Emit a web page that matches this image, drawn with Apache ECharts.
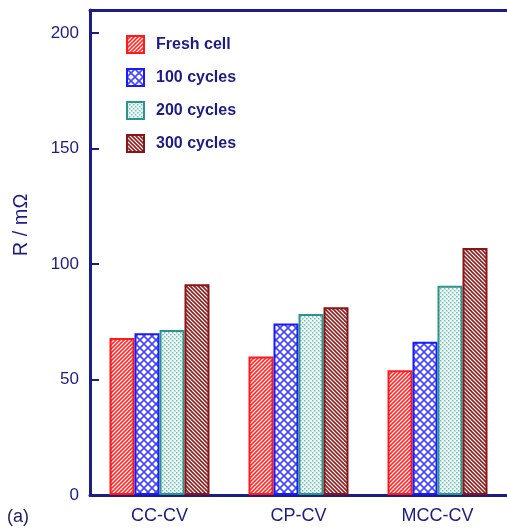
<!DOCTYPE html>
<html><head><meta charset="utf-8">
<script src="https://cdn.jsdelivr.net/npm/echarts@6/dist/echarts.min.js"></script>
<style>html,body{margin:0;padding:0;background:#fff}#c{width:507px;height:528px}</style>
</head><body><div id="c"></div>
<script>
const categories = ['CC-CV', 'CP-CV', 'MCC-CV'];
const seriesNames = ['Fresh cell', '100 cycles', '200 cycles', '300 cycles'];
const freshCell = [68, 60, 54];
const cycles100 = [70, 74.3, 66.4];
const cycles200 = [71.4, 78.4, 90.6];
const cycles300 = [91.2, 81.3, 107];

const navy = '#1c1c86';

function tile(size, draw) {
  const c = document.createElement('canvas');
  c.width = c.height = size;
  const ctx = c.getContext('2d');
  ctx.fillStyle = '#fff';
  ctx.fillRect(0, 0, size, size);
  draw(ctx, size);
  return { image: c, repeat: 'repeat' };
}
function diag(ctx, s, dir) {
  ctx.beginPath();
  for (let k = -1; k <= 1; k++) {
    if (dir > 0) { ctx.moveTo(-1 + k * s, s + 1); ctx.lineTo(s + 1 + k * s, -1); }
    else { ctx.moveTo(-1 + k * s, -1); ctx.lineTo(s + 1 + k * s, s + 1); }
  }
  ctx.stroke();
}
const pFresh = tile(4, (ctx, s) => { ctx.strokeStyle = '#ff2a2a'; ctx.lineWidth = 1.6; diag(ctx, s, 1); });
const p300 = tile(4, (ctx, s) => { ctx.strokeStyle = '#8e1f1f'; ctx.lineWidth = 1.6; diag(ctx, s, -1); });
const p100 = tile(8, (ctx, s) => { ctx.strokeStyle = '#4646ff'; ctx.lineWidth = 1.6; diag(ctx, s, 1); diag(ctx, s, -1); });
const p200 = tile(4, (ctx, s) => { ctx.fillStyle = '#eef8f6'; ctx.fillRect(0, 0, s, s); ctx.fillStyle = '#79bdb3'; ctx.fillRect(0, 0, 1.5, 1.5); ctx.fillRect(2, 2, 1.5, 1.5); });

const styles = [
  { color: pFresh, borderColor: '#ff1a1a' },
  { color: p100, borderColor: '#1a1aff' },
  { color: p200, borderColor: '#2a958a' },
  { color: p300, borderColor: '#8b1515' }
];
const values = [freshCell, cycles100, cycles200, cycles300];
const font = 'Liberation Sans, Arial';

const chart = echarts.init(document.getElementById('c'));
chart.setOption({
  animation: false,
  backgroundColor: '#fff',
  grid: { left: 90, top: 10, width: 420, height: 485 },
  legend: {
    orient: 'vertical', left: 126, top: 35, padding: 0, itemWidth: 17, itemHeight: 17, itemGap: 14,
    icon: 'rect',
    textStyle: { color: navy, fontFamily: font, fontWeight: 'bold', fontSize: 16, lineHeight: 17, padding: [0, 0, 0, 7] },
    data: seriesNames
  },
  xAxis: [{
    type: 'category', data: categories,
    axisLine: { lineStyle: { color: navy, width: 3 } },
    axisTick: { show: false },
    axisLabel: { color: navy, fontFamily: font, fontSize: 18, margin: 12 }
  }, {
    type: 'category', data: categories, position: 'top',
    axisLine: { show: true, lineStyle: { color: navy, width: 3 } },
    axisTick: { show: false }, axisLabel: { show: false }
  }],
  yAxis: {
    type: 'value', min: 0, max: 210, interval: 50,
    axisLine: { show: true, lineStyle: { color: navy, width: 3 } },
    axisTick: { show: true, inside: true, length: 9, lineStyle: { color: navy, width: 2 } },
    axisLabel: { color: navy, fontFamily: font, fontSize: 17, margin: 11, showMaxLabel: false },
    splitLine: { show: false }
  },
  graphic: [
    { type: 'text', x: 21, y: 225, rotation: Math.PI / 2,
      style: { text: 'R / mΩ', fill: navy, font: '20px ' + font, align: 'center', verticalAlign: 'middle' } },
    { type: 'text', left: 7, top: 508, style: { text: '(a)', fill: '#1e1e5a', font: '18px ' + font } }
  ],
  series: seriesNames.map((n, i) => ({
    name: n, type: 'bar', data: values[i], barWidth: 25, barGap: '0%',
    itemStyle: { color: styles[i].color, borderColor: styles[i].borderColor, borderWidth: 2 }
  }))
});
</script></body></html>
